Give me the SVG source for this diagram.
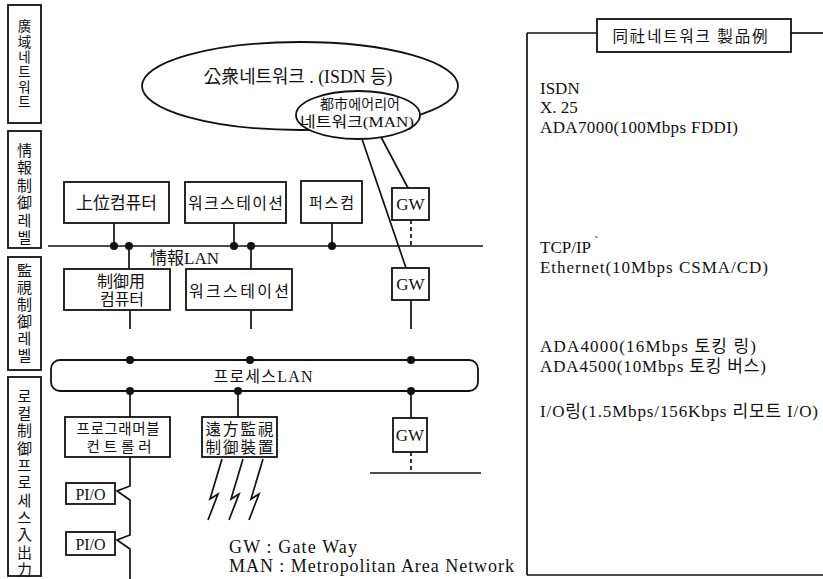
<svg xmlns="http://www.w3.org/2000/svg" width="823" height="579" viewBox="0 0 823 579">
<style>
.box{fill:#fff;stroke:#111;stroke-width:1.8}
.ln{fill:none;stroke:#111;stroke-width:1.7}
.dash{stroke-dasharray:4 3}
.t{font-family:"Liberation Serif","Noto Sans CJK KR",serif;fill:#111}
.m{text-anchor:middle}
.dot{fill:#111}
</style>
<rect width="823" height="579" fill="#fff"/>

<g id="level-labels">
  <rect class="box" x="8" y="5" width="33" height="118"/>
  <text class="t m" font-size="13.5"><tspan x="24.5" y="31">廣</tspan><tspan x="24.5" y="47">域</tspan><tspan x="24.5" y="62">네</tspan><tspan x="24.5" y="77">트</tspan><tspan x="24.5" y="92">워</tspan><tspan x="24.5" y="107">트</tspan></text>
  <rect class="box" x="8" y="131" width="33" height="117"/>
  <text class="t m" font-size="15"><tspan x="24.5" y="156">情</tspan><tspan x="24.5" y="173">報</tspan><tspan x="24.5" y="191">制</tspan><tspan x="24.5" y="208">御</tspan><tspan x="24.5" y="226">레</tspan><tspan x="24.5" y="243">벨</tspan></text>
  <rect class="box" x="8" y="257" width="33" height="113"/>
  <text class="t m" font-size="15"><tspan x="24.5" y="276">監</tspan><tspan x="24.5" y="293">視</tspan><tspan x="24.5" y="310">制</tspan><tspan x="24.5" y="327">御</tspan><tspan x="24.5" y="344">레</tspan><tspan x="24.5" y="361">벨</tspan></text>
  <rect class="box" x="8" y="377" width="33" height="199"/>
  <text class="t m" font-size="15"><tspan x="24.5" y="402">로</tspan><tspan x="24.5" y="419">컬</tspan><tspan x="24.5" y="436">制</tspan><tspan x="24.5" y="454">御</tspan><tspan x="24.5" y="471">프</tspan><tspan x="24.5" y="488">로</tspan><tspan x="24.5" y="506">세</tspan><tspan x="24.5" y="523">스</tspan><tspan x="24.5" y="540">入</tspan><tspan x="24.5" y="558">出</tspan><tspan x="24.5" y="575">力</tspan></text>
</g>

<g id="public-network">
  <ellipse class="box" cx="300" cy="86" rx="158" ry="44"/>
  <text class="t m" x="298" y="83" font-size="18" textLength="189" lengthAdjust="spacingAndGlyphs">公衆네트워크 . (ISDN 등)</text>
</g>
<g id="man">
  <ellipse class="box" cx="358" cy="115" rx="62" ry="24"/>
  <text class="t m" x="360" y="109" font-size="14" textLength="80" lengthAdjust="spacing">都市에어리어</text>
  <text class="t m" x="357" y="127" font-size="15" textLength="114" lengthAdjust="spacingAndGlyphs">네트워크(MAN)</text>
</g>

<g id="host-computer">
  <rect class="box" x="64" y="182" width="105" height="41"/>
  <text class="t m" x="116.5" y="209" font-size="17">上位컴퓨터</text>
</g>
<g id="workstation-1">
  <rect class="box" x="185" y="182" width="101" height="41"/>
  <text class="t m" x="235.5" y="209" font-size="16" textLength="95" lengthAdjust="spacing">워크스테이션</text>
</g>
<g id="personal-computer">
  <rect class="box" x="301" y="181" width="61" height="42"/>
  <text class="t m" x="331.5" y="208" font-size="15" textLength="45" lengthAdjust="spacing">퍼스컴</text>
</g>
<g id="gw-1">
  <rect class="box" x="392" y="188" width="37" height="32"/>
  <text class="t m" x="410.5" y="210" font-size="17">GW</text>
</g>
<g id="info-lan-label">
  <text class="t" x="150" y="264" font-size="17">情報LAN</text>
</g>

<g id="control-computer">
  <rect class="box" x="64" y="269" width="106" height="41"/>
  <text class="t m" x="121" y="287" font-size="16">制御用</text>
  <text class="t m" x="122" y="305" font-size="16">컴퓨터</text>
</g>
<g id="workstation-2">
  <rect class="box" x="186" y="269" width="106" height="41"/>
  <text class="t m" x="239" y="297" font-size="16" textLength="100" lengthAdjust="spacing">워크스테이션</text>
</g>
<g id="gw-2">
  <rect class="box" x="392" y="268" width="37" height="32"/>
  <text class="t m" x="410.5" y="290" font-size="17">GW</text>
</g>

<g id="process-lan">
  <rect class="box" x="51" y="360" width="427" height="31" rx="9"/>
  <text class="t m" x="263" y="382" font-size="16" textLength="99" lengthAdjust="spacing">프로세스LAN</text>
</g>

<g id="plc">
  <rect class="box" x="65" y="417" width="105" height="40"/>
  <text class="t m" x="118" y="434" font-size="14.5" textLength="83" lengthAdjust="spacing">프로그래머블</text>
  <text class="t m" x="119" y="452" font-size="14.5" textLength="65" lengthAdjust="spacing">컨트롤러</text>
</g>
<g id="remote-supervisory">
  <rect class="box" x="202" y="417" width="75" height="40"/>
  <text class="t m" x="239.5" y="435" font-size="15.5" textLength="68" lengthAdjust="spacing">遠方監視</text>
  <text class="t m" x="239.5" y="453" font-size="15.5" textLength="68" lengthAdjust="spacing">制御裝置</text>
</g>
<g id="gw-3">
  <rect class="box" x="393" y="418" width="34" height="34"/>
  <text class="t m" x="410" y="441" font-size="17">GW</text>
</g>
<g id="pio-1">
  <rect class="box" x="66" y="483" width="49" height="21"/>
  <text class="t m" x="90.5" y="500" font-size="16">PI/O</text>
</g>
<g id="pio-2">
  <rect class="box" x="66" y="532" width="49" height="23"/>
  <text class="t m" x="90.5" y="550" font-size="16">PI/O</text>
</g>

<g id="legend">
  <text class="t" x="229" y="553" font-size="18" textLength="128" lengthAdjust="spacing">GW : Gate Way</text>
  <text class="t" x="229" y="572" font-size="18" textLength="285" lengthAdjust="spacing">MAN : Metropolitan Area Network</text>
</g>

<g id="product-panel">
  <line class="ln" x1="527" y1="33" x2="597" y2="33"/>
  <line class="ln" x1="791" y1="33" x2="823" y2="33"/>
  <line class="ln" x1="527" y1="33" x2="527" y2="575"/>
  <line class="ln" x1="527" y1="575" x2="823" y2="575"/>
  <rect class="box" x="597" y="19" width="194" height="33"/>
  <text class="t m" x="690" y="42" font-size="15.5" textLength="155" lengthAdjust="spacing">同社네트워크 製品例</text>
  <text class="t" x="540" y="94" font-size="17">ISDN</text>
  <text class="t" x="540" y="113" font-size="17">X. 25</text>
  <text class="t" x="540" y="133" font-size="17" textLength="198" lengthAdjust="spacing">ADA7000(100Mbps FDDI)</text>
  <text class="t" x="540" y="253" font-size="17">TCP/IP <tspan font-size="10" dy="-9">˜</tspan></text>
  <text class="t" x="540" y="273" font-size="17" textLength="228" lengthAdjust="spacing">Ethernet(10Mbps CSMA/CD)</text>
  <text class="t" x="540" y="352" font-size="17" textLength="216" lengthAdjust="spacing">ADA4000(16Mbps 토킹 링)</text>
  <text class="t" x="540" y="372" font-size="17" textLength="226" lengthAdjust="spacing">ADA4500(10Mbps 토킹 버스)</text>
  <text class="t" x="540" y="417" font-size="17" textLength="278" lengthAdjust="spacing">I/O링(1.5Mbps/156Kbps 리모트 I/O)</text>
</g>

<g id="connectors">
  <line class="ln" x1="362" y1="139" x2="406" y2="268"/>
  <line class="ln" x1="381" y1="137" x2="408" y2="188"/>
  <line class="ln" x1="48" y1="246" x2="483" y2="246"/>
  <line class="ln" x1="114" y1="223" x2="114" y2="246"/>
  <line class="ln" x1="234" y1="223" x2="234" y2="246"/>
  <line class="ln" x1="332" y1="223" x2="332" y2="246"/>
  <line class="ln" x1="129" y1="246" x2="129" y2="269"/>
  <line class="ln" x1="251" y1="246" x2="251" y2="269"/>
  <line class="ln dash" x1="411" y1="220" x2="411" y2="246"/>
  <circle class="dot" cx="114" cy="246" r="4"/>
  <circle class="dot" cx="129" cy="246" r="4"/>
  <circle class="dot" cx="234" cy="246" r="4"/>
  <circle class="dot" cx="251" cy="246" r="4"/>
  <circle class="dot" cx="332" cy="246" r="4"/>
  <line class="ln" x1="130" y1="310" x2="130" y2="329"/>
  <line class="ln" x1="251" y1="310" x2="251" y2="329"/>
  <line class="ln" x1="411" y1="300" x2="411" y2="329"/>
  <circle class="dot" cx="130" cy="360" r="4"/>
  <circle class="dot" cx="250" cy="360" r="4"/>
  <circle class="dot" cx="411" cy="360" r="4"/>
  <circle class="dot" cx="130" cy="391" r="4"/>
  <circle class="dot" cx="238" cy="391" r="4"/>
  <circle class="dot" cx="411" cy="391" r="4"/>
  <line class="ln" x1="130" y1="391" x2="130" y2="417"/>
  <line class="ln" x1="238" y1="391" x2="238" y2="417"/>
  <line class="ln" x1="411" y1="391" x2="411" y2="418"/>
  <path class="ln" d="M130,457 L130,486 L117,491 L130,500 L130,535 L117,540 L130,549 L130,579"/>
  <path class="ln" d="M222,459 L210,499 L218,494 L208,520"/>
  <path class="ln" d="M243,459 L231,499 L239,494 L229,520"/>
  <path class="ln" d="M263,459 L251,499 L259,494 L249,520"/>
  <line class="ln dash" x1="411" y1="452" x2="411" y2="473"/>
  <line class="ln" x1="370" y1="473" x2="481" y2="473"/>
</g>
</svg>
